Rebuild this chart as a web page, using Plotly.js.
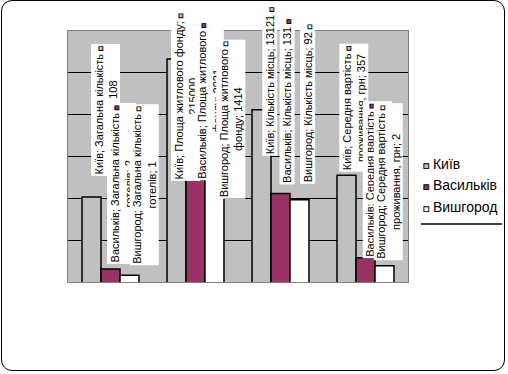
<!DOCTYPE html>
<html>
<head>
<meta charset="utf-8">
<script src="https://cdn.plot.ly/plotly-3.0.1.min.js"></script>
<style>
  html, body { margin: 0; padding: 0; background: #fff; }
  #wrap { position: relative; width: 508px; height: 374px; }
  #chart { position: absolute; left: 0; top: 0; width: 508px; height: 374px; }
  #frame { position: absolute; left: 1px; top: 0px; width: 502px; height: 369px;
           border: 1.5px solid #000; border-radius: 11px; pointer-events: none; }
</style>
</head>
<body>
<div id="wrap"><div id="chart"></div><div id="frame"></div></div>
<script>
// ---- data ----
const categories = ['Загальна кількість готелів', 'Площа житлового фонду', 'Кількість місць', 'Середня вартість проживання, грн'];
const seriesNames = ['Київ', 'Васильків', 'Вишгород'];
const kyiv      = [108, 215000, 13121, 357];
const vasylkiv  = [2.05, 2021, 131, 3.8];
const vyshhorod = [1.45, 1414, 92, 2.45];

// ---- style ----
const colors = ['#C0C0C0', '#993366', '#FFFFFF'];
const seriesValues = [kyiv, vasylkiv, vyshhorod];
// label box offsets: [dx of box centre from category centre, dy of box bottom above bar top] (px)
const labelOffsets = [
  [[-4.5, 20], [-10, -123], [-10.5, -47], [-12, 3]],
  [[11, 4],    [13.5, -37], [7, 8],       [11.5, -1]],
  [[34, 9],    [35.5, -49], [27, 15],     [22.5, 5]]
];

const L = 68, R = 408, T = 31, B = 282;
const px = x => (x - L) / (R - L);
const py = y => (B - y) / (B - T);

function wrap(text, maxLen) {
  const words = text.split(' ');
  const lines = [];
  let cur = '';
  words.forEach(w => {
    const cand = cur ? cur + ' ' + w : w;
    if (cand.length > maxLen && cur) { lines.push(cur); cur = w; }
    else cur = cand;
  });
  if (cur) lines.push(cur);
  return lines;
}
function key(color, size) {
  return "<span style='fill:" + color + ";stroke:#000;stroke-width:0.9;font-size:" + size + "px'>■</span>";
}

const traces = seriesNames.map((name, i) => ({
  type: 'bar',
  name: name,
  x: categories,
  y: seriesValues[i],
  marker: { color: colors[i], line: { color: '#000', width: 1.5 } },
  showlegend: false,
  hoverinfo: 'skip'
}));

const annotations = [];
categories.forEach((cat, c) => {
  seriesNames.forEach((name, s) => {
    const v = seriesValues[s][c];
    const full = name + '; ' + cat + '; ' + Math.round(v);
    const lines = wrap(full, 31);
    lines[0] = lines[0] + ' ' + key(colors[s], 8);
    annotations.push({
      xref: 'x', yref: 'y', x: cat, y: Math.log10(v),
      text: lines.join('<br>'),
      textangle: -90, showarrow: false,
      xanchor: 'center', yanchor: 'bottom',
      xshift: labelOffsets[s][c][0],
      yshift: labelOffsets[s][c][1],
      bgcolor: '#FFFFFF', borderpad: 1, align: 'center',
      font: { family: 'Liberation Sans, Arial, sans-serif', size: 11, color: '#000' }
    });
  });
});

// legend built from series names
const legendRows = [164, 185, 207];
seriesNames.forEach((name, i) => {
  annotations.push({
    xref: 'paper', yref: 'paper', x: px(421), y: py(legendRows[i]),
    xanchor: 'left', yanchor: 'middle', showarrow: false,
    text: key(colors[i], 10) + ' ' + name,
    font: { family: 'Liberation Sans, Arial, sans-serif', size: 14, color: '#000' }
  });
});

const layout = {
  width: 508, height: 374,
  margin: { l: L, r: 508 - R, t: T, b: 374 - B, pad: 0 },
  paper_bgcolor: 'rgba(0,0,0,0)',
  plot_bgcolor: '#C0C0C0',
  barmode: 'group', bargap: 0.33, bargroupgap: 0,
  showlegend: false,
  xaxis: { showticklabels: false, ticks: '', showgrid: false, showline: true, mirror: true,
           linecolor: '#808080', linewidth: 1, fixedrange: true },
  yaxis: { type: 'log', range: [0, 6], dtick: 1, showticklabels: false, ticks: '',
           showgrid: true, gridcolor: '#000', gridwidth: 1, showline: true, mirror: true,
           linecolor: '#808080', linewidth: 1, zeroline: false, fixedrange: true },
  annotations: annotations,
  shapes: [{ type: 'line', xref: 'paper', yref: 'paper', x0: px(421), x1: px(502),
             y0: py(224), y1: py(224), line: { color: '#000', width: 1.5 } }]
};

Plotly.newPlot('chart', traces, layout, { displayModeBar: false, staticPlot: true });
</script>
</body>
</html>
